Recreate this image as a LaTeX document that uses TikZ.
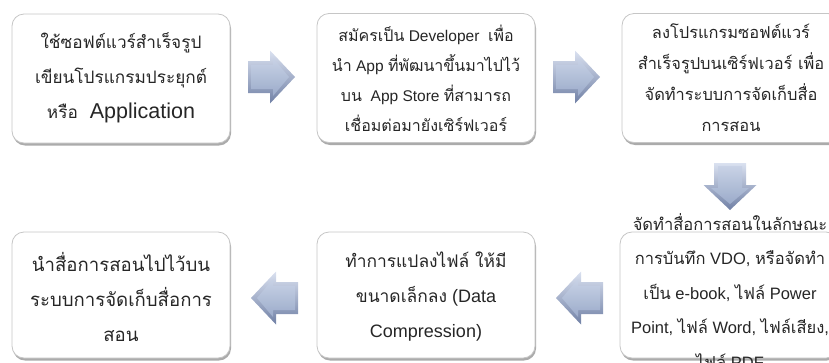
\documentclass[tikz,border=0pt]{standalone}
\usepackage{fontspec}
\setmainfont{Liberation Sans}
\newfontfamily\thai[Script=Thai]{Loma}
\def\thsz{16}
\newcommand\thx[1]{{\thai\fontsize{\thsz}{\baselineskip}\selectfont #1}}
\usetikzlibrary{shadows}
\lineskiplimit=-1000pt
\definecolor{arrowdark}{RGB}{112,128,165}
\definecolor{arrowmid}{RGB}{160,176,206}
\definecolor{arrowlight}{RGB}{218,225,240}
\tikzset{
  box/.style={draw=gray!45, line width=0.8pt, fill=white, rounded corners=12pt,
    minimum width=218pt, minimum height=129pt, inner sep=0pt,
    drop shadow={shadow xshift=1pt, shadow yshift=-2.5pt, fill=black!60, opacity=0.55}},
  txt/.style={align=center, inner sep=0pt, text=black!85},
}
\newcommand\blockarrow[1]{%
  \begin{scope}[#1]
    \shade[top color=arrowlight, bottom color=arrowdark]
      (0,-16) -- (22,-16) -- (22,-26.5) -- (47,0) -- (22,26.5) -- (22,16) -- (0,16) -- cycle;
    \shade[top color=arrowlight!70!arrowmid, bottom color=arrowmid!90!arrowdark]
      (3,-12) -- (25,-12) -- (25,-19) -- (41,0) -- (25,19) -- (25,12) -- (3,12) -- cycle;
  \end{scope}}
\begin{document}
\begin{tikzpicture}[x=1pt,y=-1pt]
\useasboundingbox (0,0) rectangle (829,362);
% boxes
\node[box] (b1) at (121,78.5) {};
\node[box] (b2) at (426,78) {};
\node[box] (b3) at (731,78) {};
\node[box, minimum height=126pt] (b4) at (729,295) {};
\node[box, minimum height=126pt] (b5) at (426,295) {};
\node[box, minimum height=126pt] (b6) at (121,295) {};
% texts
\node[txt, font=\fontsize{21.5}{35}\selectfont\def\thsz{17.2}] (t1) at (121,78) {\thx{ใช้ซอฟต์แวร์สำเร็จรูป}\\ \thx{เขียนโปรแกรมประยุกต์}\\ \thx{หรือ}\ \ Application};
\node[txt, font=\fontsize{15.5}{30}\selectfont\def\thsz{16}] (t2) at (426,78) {\thx{สมัครเป็น} Developer\ \ \thx{เพื่อ}\\ \thx{นำ} App \thx{ที่พัฒนาขึ้นมาไปไว้}\\ \thx{บน}\ \ App Store \thx{ที่สามารถ}\\ \thx{เชื่อมต่อมายังเซิร์ฟเวอร์}};
\node[txt, font=\fontsize{16}{31}\selectfont\def\thsz{16.4}] (t3) at (731,78) {\thx{ลงโปรแกรมซอฟต์แวร์}\\ \thx{สำเร็จรูปบนเซิร์ฟเวอร์ เพื่อ}\\ \thx{จัดทำระบบการจัดเก็บสื่อ}\\ \thx{การสอน}};
\node[txt, font=\fontsize{16.5}{34.5}\selectfont\def\thsz{16.5}] (t4) at (730,291) {\thx{จัดทำสื่อการสอนในลักษณะ}\\ \thx{การบันทึก} VDO, \thx{หรือจัดทำ}\\ \thx{เป็น} e-book, \thx{ไฟล์} Power\\ Point, \thx{ไฟล์} Word, \thx{ไฟล์เสียง},\\ \thx{ไฟล์} PDF};
\node[txt, font=\fontsize{18}{35}\selectfont\def\thsz{17.4}] (t5) at (426,297) {\thx{ทำการแปลงไฟล์ ให้มี}\\ \thx{ขนาดเล็กลง} (Data\\ Compression)};
\node[txt, font=\fontsize{18.6}{35}\selectfont\def\thsz{18.6}] (t6) at (121,297) {\thx{นำสื่อการสอนไปไว้บน}\\ \thx{ระบบการจัดเก็บสื่อการ}\\ \thx{สอน}};
% block arrows
\blockarrow{shift={(248,77)}}
\blockarrow{shift={(553,77)}}
\blockarrow{shift={(730,163)}, rotate=-90}
\blockarrow{shift={(603,298)}, xscale=-1}
\blockarrow{shift={(298,298)}, xscale=-1}
\end{tikzpicture}
\end{document}
